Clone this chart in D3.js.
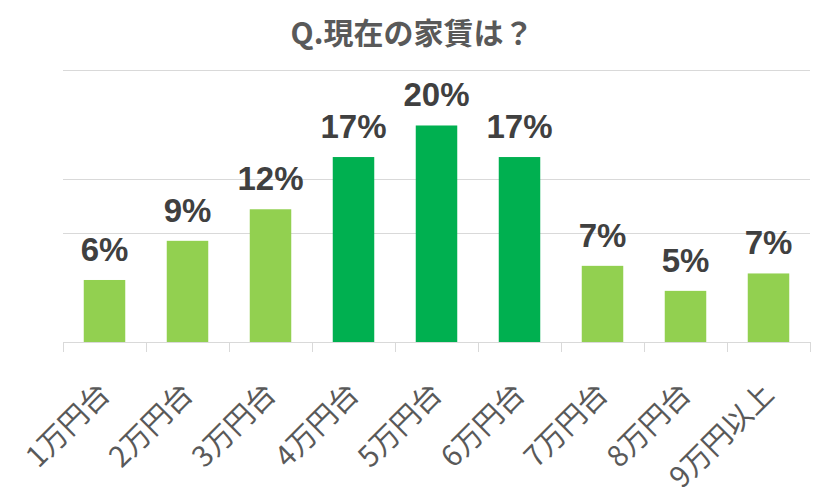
<!DOCTYPE html>
<html>
<head>
<meta charset="utf-8">
<script src="https://cdn.jsdelivr.net/npm/d3@7"></script>
<style>
  html, body { margin: 0; padding: 0; background: #fff; }
  svg { display: block; }
</style>
</head>
<body>
<svg id="chart" width="821" height="500"></svg>
<script>
const title = "Q.現在の家賃は？";
const categories = ["1万円台", "2万円台", "3万円台", "4万円台", "5万円台", "6万円台", "7万円台", "8万円台", "9万円以上"];
const values = [5.7, 9.3, 12.2, 17.0, 19.9, 17.0, 7.0, 4.7, 6.3];
const valueLabels = ["6%", "9%", "12%", "17%", "20%", "17%", "7%", "5%", "7%"];
const highlighted = ["4万円台", "5万円台", "6万円台"];
const gridTicks = [10, 15, 25];
const yMax = 25;

const svg = d3.select("#chart");
const x = d3.scaleBand().domain(categories).range([63, 810]).paddingInner(0.5).paddingOuter(0.25);
const y = d3.scaleLinear().domain([0, yMax]).range([342, 70]);

svg.append("text")
  .attr("x", 412).attr("y", 44)
  .attr("text-anchor", "middle")
  .attr("font-family", "'Noto Sans CJK JP', 'Noto Sans', sans-serif")
  .attr("font-weight", "bold")
  .attr("font-size", 30)
  .attr("fill", "#595959")
  .text(title);

// gridlines
svg.append("g").selectAll("line").data(gridTicks).join("line")
  .attr("x1", 63).attr("x2", 810)
  .attr("y1", d => Math.round(y(d)) + 0.5).attr("y2", d => Math.round(y(d)) + 0.5)
  .attr("stroke", "#d9d9d9").attr("stroke-width", 1);

// bars
svg.append("g").selectAll("rect").data(categories).join("rect")
  .attr("x", d => x(d))
  .attr("width", x.bandwidth())
  .attr("y", (d, i) => y(values[i]))
  .attr("height", (d, i) => y(0) - y(values[i]))
  .attr("fill", d => highlighted.includes(d) ? "#00b050" : "#92d050");

// x axis
const xAxis = d3.axisBottom(x).tickSize(0).tickFormat("");
const gx = svg.append("g").attr("transform", `translate(0,${y(0)})`).call(xAxis);
gx.select(".domain").attr("stroke", "#d9d9d9");
const boundaries = categories.map(c => x(c) - x.step() * x.paddingInner() / 2).concat([810]);
gx.selectAll("line.bound").data(boundaries).join("line").attr("class", "bound")
  .attr("x1", d => Math.round(d) + 0.5).attr("x2", d => Math.round(d) + 0.5)
  .attr("y1", 0).attr("y2", 10)
  .attr("stroke", "#d9d9d9");

// x labels
svg.append("g").selectAll("text").data(categories).join("text")
  .attr("transform", d => `translate(${x(d) + x.bandwidth() / 2 + 7},396) rotate(-45)`)
  .attr("text-anchor", "end")
  .attr("font-family", "'Noto Sans CJK JP', sans-serif")
  .attr("font-size", 29)
  .attr("fill", "#595959")
  .text(d => d);

// value labels
svg.append("g").selectAll("text").data(categories).join("text")
  .attr("x", d => x(d) + x.bandwidth() / 2)
  .attr("y", (d, i) => y(values[i]) - 19)
  .attr("text-anchor", "middle")
  .attr("font-family", "'Liberation Sans', Arial, sans-serif")
  .attr("font-weight", "bold")
  .attr("font-size", 33)
  .attr("fill", "#404040")
  .text((d, i) => valueLabels[i]);
</script>
</body>
</html>
